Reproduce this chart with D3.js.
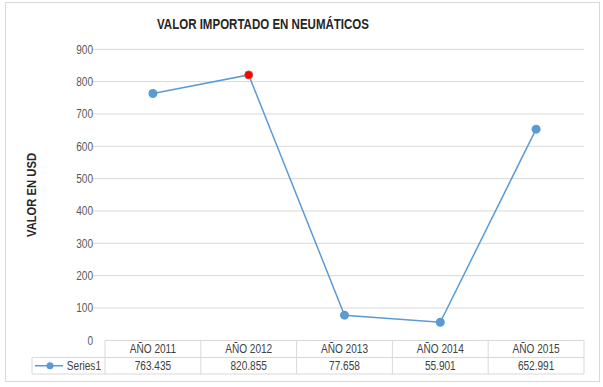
<!DOCTYPE html>
<html><head><meta charset="utf-8">
<script src="https://cdn.jsdelivr.net/npm/d3@7"></script>
<style>
body{margin:0;background:#fff;}
text{font-family:"Liberation Sans Narrow","Arial Narrow","Liberation Sans",Arial,sans-serif;}
</style></head>
<body><svg id="c" width="603" height="387"></svg>
<script>
const categories = ["AÑO 2011","AÑO 2012","AÑO 2013","AÑO 2014","AÑO 2015"];
const values = [763.435, 820.855, 77.658, 55.901, 652.991];
const valueLabels = ["763.435","820.855","77.658","55.901","652.991"];
const yTicks = [0,100,200,300,400,500,600,700,800,900];
const seriesName = "Series1";
const highlightIndex = 1;

const svg = d3.select("#c");
const L = 105, R = 584, T = 49.3, B = 340.3;
const blue = "#5b9bd5";
const NARROW = 0.84;
function narrow(sel, f){
  sel.each(function(){
    const len = this.getComputedTextLength();
    d3.select(this).attr("textLength", len*f).attr("lengthAdjust","spacingAndGlyphs");
  });
}

svg.append("rect").attr("x",5.5).attr("y",2.5).attr("width",594).attr("height",379)
  .attr("fill","#fff").attr("stroke","#d9d9d9");

const x = d3.scaleBand().domain(categories).range([L,R]);
const y = d3.scaleLinear().domain([0,900]).range([B,T]);

// gridlines
svg.append("g").selectAll("line").data(yTicks.filter(d=>d>0)).join("line")
  .attr("x1",92).attr("x2",R).attr("y1",d=>y(d)).attr("y2",d=>y(d))
  .attr("stroke","#d9d9d9").attr("stroke-width",1);

// y axis labels
const ya = svg.append("g").attr("transform",`translate(${L},0)`)
  .call(d3.axisLeft(y).tickValues(yTicks).tickSize(0).tickPadding(12));
ya.select(".domain").remove();
ya.selectAll("text").attr("font-size",12).attr("fill","#595959")
  .style("font-family",'"Liberation Sans Narrow","Arial Narrow","Liberation Sans",Arial,sans-serif')
  .call(narrow, NARROW);

// title
svg.append("text").attr("x",263).attr("y",28.5).attr("text-anchor","middle")
  .attr("font-size",15).attr("font-weight","bold").attr("fill","#262626")
  .attr("textLength",212).attr("lengthAdjust","spacingAndGlyphs")
  .text("VALOR IMPORTADO EN NEUMÁTICOS");

// y title
svg.append("text").attr("transform","translate(36,195) rotate(-90)")
  .attr("text-anchor","middle").attr("font-size",12.5).attr("font-weight","bold")
  .attr("fill","#262626").attr("textLength",84).attr("lengthAdjust","spacingAndGlyphs")
  .text("VALOR EN USD");

// data table
const rowTop = 340.5, rowMid = 357.5, rowBot = 374;
const tbl = svg.append("g");
const tcol = "#d9d9d9";
tbl.append("line").attr("x1",L).attr("x2",R).attr("y1",rowTop).attr("y2",rowTop).attr("stroke",tcol);
tbl.append("line").attr("x1",32).attr("x2",R).attr("y1",rowMid).attr("y2",rowMid).attr("stroke",tcol);
tbl.append("line").attr("x1",32).attr("x2",R).attr("y1",rowBot).attr("y2",rowBot).attr("stroke",tcol);
tbl.append("line").attr("x1",32).attr("x2",32).attr("y1",rowMid).attr("y2",rowBot).attr("stroke",tcol);
const bounds = categories.map(c=>x(c)).concat([R]);
tbl.selectAll("line.v").data(bounds).join("line").attr("class","v")
  .attr("x1",d=>d).attr("x2",d=>d).attr("y1",rowTop).attr("y2",rowBot).attr("stroke",tcol);
tbl.selectAll("text.cat").data(categories).join("text").attr("class","cat")
  .attr("x",d=>x(d)+x.bandwidth()/2).attr("y",rowTop+12.5).attr("text-anchor","middle")
  .attr("font-size",12).attr("fill","#404040").text(d=>d).call(narrow, NARROW);
tbl.selectAll("text.val").data(valueLabels).join("text").attr("class","val")
  .attr("x",(d,i)=>x(categories[i])+x.bandwidth()/2).attr("y",rowMid+12.5).attr("text-anchor","middle")
  .attr("font-size",12).attr("fill","#404040").text(d=>d).call(narrow, NARROW);
// legend key
tbl.append("line").attr("x1",35).attr("x2",63).attr("y1",(rowMid+rowBot)/2).attr("y2",(rowMid+rowBot)/2)
  .attr("stroke",blue).attr("stroke-width",1.5);
tbl.append("circle").attr("cx",50).attr("cy",(rowMid+rowBot)/2).attr("r",3.5).attr("fill",blue);
tbl.append("text").attr("x",101).attr("y",rowMid+12.5).attr("text-anchor","end")
  .attr("font-size",12).attr("fill","#404040").text(seriesName).call(narrow, NARROW);

// line
const cx = c => x(c)+x.bandwidth()/2;
const line = d3.line().x((d,i)=>cx(categories[i])).y(d=>y(d));
svg.append("path").datum(values).attr("d",line).attr("fill","none")
  .attr("stroke",blue).attr("stroke-width",1.5);
svg.selectAll("circle.pt").data(values).join("circle").attr("class","pt")
  .attr("cx",(d,i)=>cx(categories[i])).attr("cy",d=>y(d)).attr("r",(d,i)=>i===highlightIndex?4:4.5)
  .attr("fill",(d,i)=>i===highlightIndex?"#ff0000":blue)
  .attr("stroke",(d,i)=>i===highlightIndex?"#c0504d":"none").attr("stroke-width",1);
</script></body></html>
